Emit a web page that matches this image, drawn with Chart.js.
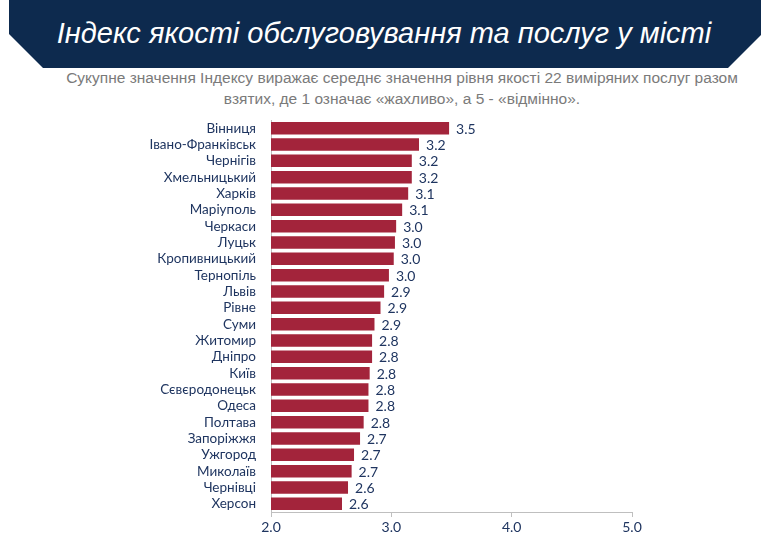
<!DOCTYPE html>
<html>
<head>
<meta charset="utf-8">
<script src="https://cdn.jsdelivr.net/npm/chart.js@4"></script>
<style>
	html, body { margin: 0; padding: 0; background: #fff; }
	#page { position: relative; width: 768px; height: 540px; overflow: hidden; }
	#band {
		position: absolute; left: 0; top: 0; width: 768px; height: 68px;
		background: #0d2a4e;
		clip-path: polygon(9px 0, 761px 0, 761px 35px, 728px 68px, 43px 68px, 9px 34px);
	}
	#title {
		position: absolute; left: 0; top: 13px; width: 768px; text-align: center;
		color: #fff; font-family: 'Liberation Sans Narrow', 'Liberation Sans', sans-serif;
		font-style: italic; font-size: 29px; line-height: 40px;
	}
	#sub {
		position: absolute; left: 0; top: 67px; width: 804px; text-align: center;
		color: #7a7a7a; font-family: 'Liberation Sans Narrow', 'Liberation Sans', sans-serif;
		font-size: 15.5px; line-height: 21px;
	}
	#wrap { position: absolute; left: 0; top: 112px; width: 768px; height: 428px; }
</style>
</head>
<body>
<div id="page">
	<div id="band"></div>
	<div id="title">Індекс якості обслуговування та послуг у місті</div>
	<div id="sub">Сукупне значення Індексу виражає середнє значення рівня якості 22 виміряних послуг разом<br>взятих, де 1 означає «жахливо», а 5 - «відмінно».</div>
	<div id="wrap"><canvas id="chart" width="768" height="428"></canvas></div>
</div>
<script>
const cities = [
	'Вінниця', 'Івано-Франківськ', 'Чернігів', 'Хмельницький', 'Харків', 'Маріуполь',
	'Черкаси', 'Луцьк', 'Кропивницький', 'Тернопіль', 'Львів', 'Рівне',
	'Суми', 'Житомир', 'Дніпро', 'Київ', 'Сєвєродонецьк', 'Одеса',
	'Полтава', 'Запоріжжя', 'Ужгород', 'Миколаїв', 'Чернівці', 'Херсон'
];
const indexValues = [
	3.48, 3.23, 3.17, 3.17, 3.14, 3.09,
	3.04, 3.03, 3.02, 2.98, 2.94, 2.91,
	2.86, 2.84, 2.84, 2.82, 2.81, 2.81,
	2.77, 2.74, 2.69, 2.67, 2.64, 2.59
];
const xTicks = [2, 3, 4, 5];

const navy = '#1f3560';
const barColor = '#a3243b';
const axisGray = '#bfbfbf';

// value labels to the right of every bar
const valueLabels = {
	id: 'valueLabels',
	afterDatasetsDraw(chart) {
		const ctx = chart.ctx;
		const meta = chart.getDatasetMeta(0);
		ctx.save();
		ctx.fillStyle = navy;
		ctx.font = '14px Lato, sans-serif';
		ctx.textAlign = 'left';
		ctx.textBaseline = 'middle';
		meta.data.forEach((bar, i) => {
			ctx.fillText(indexValues[i].toFixed(1), bar.x + 7, bar.y + 1);
		});
		ctx.restore();
	},
};

new Chart(document.getElementById('chart'), {
	type: 'bar',
	data: {
		labels: cities,
		datasets: [{
			data: indexValues,
			backgroundColor: barColor,
			borderWidth: 0,
			barPercentage: 0.77,
			categoryPercentage: 1,
		}],
	},
	options: {
		indexAxis: 'y',
		responsive: false,
		animation: false,
		layout: { padding: { left: 0, right: 136, top: 8, bottom: 0 } },
		plugins: { legend: { display: false }, tooltip: { enabled: false } },
		scales: {
			x: {
				min: 2,
				max: 5,
				afterBuildTicks: (scale) => { scale.ticks = xTicks.map((v) => ({ value: v })); },
				afterFit: (scale) => { scale.height = 28; },
				grid: { display: true, drawOnChartArea: false, drawTicks: true, tickLength: 5, color: axisGray },
				border: { color: axisGray },
				ticks: {
					color: navy,
					font: { family: 'Lato', size: 14 },
					padding: 2,
					callback: (v) => Number(v).toFixed(1),
				},
			},
			y: {
				afterFit: (scale) => {
					scale.width = 271;
					scale.paddingTop = 0;
					scale.paddingBottom = 0;
				},
				grid: { display: false },
				border: { color: axisGray },
				ticks: {
					color: navy,
					font: { family: 'Lato', size: 13.5 },
					padding: 7,
					autoSkip: false,
				},
			},
		},
	},
	plugins: [valueLabels],
});
</script>
</body>
</html>
